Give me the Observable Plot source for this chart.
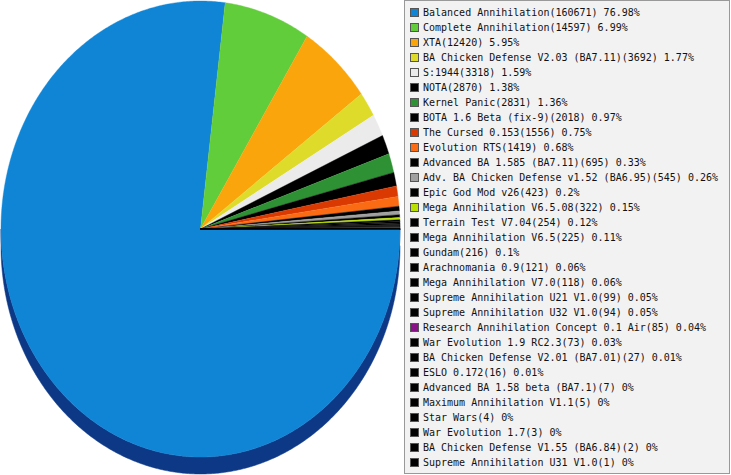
<!DOCTYPE html>
<html>
<head>
<meta charset="utf-8">
<script src="https://cdn.jsdelivr.net/npm/d3@7"></script>
<script src="https://cdn.jsdelivr.net/npm/@observablehq/plot@0.6"></script>
<style>
  html, body { margin: 0; padding: 0; background: #fff; }
  #wrap { position: relative; width: 731px; height: 475px; overflow: hidden; }
  #chart { position: absolute; left: 0; top: 0; }
  #legend {
    position: absolute; left: 404px; top: 0; width: 324px; height: 472px;
    border: 1px solid #999; background: #f2f2f2; box-sizing: content-box;
    padding: 0; font-family: "DejaVu Sans Mono", monospace; font-size: 10px; color: #111;
  }
  .row { position: absolute; left: 5px; height: 15px; line-height: 15px; white-space: pre; }
  .sw { position: absolute; left: 0; top: 3px; width: 7px; height: 7px; border: 1px solid #555; }
  .lb { position: absolute; left: 13px; top: 0; }
</style>
</head>
<body>
<div id="wrap">
  <div id="chart"></div>
  <div id="legend"></div>
</div>
<script>
const names = [
  "Balanced Annihilation", "Complete Annihilation", "XTA", "BA Chicken Defense V2.03 (BA7.11)",
  "S:1944", "NOTA", "Kernel Panic", "BOTA 1.6 Beta (fix-9)", "The Cursed 0.153", "Evolution RTS",
  "Advanced BA 1.585 (BA7.11)", "Adv. BA Chicken Defense v1.52 (BA6.95)", "Epic God Mod v26",
  "Mega Annihilation V6.5.08", "Terrain Test V7.04", "Mega Annihilation V6.5", "Gundam",
  "Arachnomania 0.9", "Mega Annihilation V7.0", "Supreme Annihilation U21 V1.0",
  "Supreme Annihilation U32 V1.0", "Research Annihilation Concept 0.1 Air", "War Evolution 1.9 RC2.3",
  "BA Chicken Defense V2.01 (BA7.01)", "ESLO 0.172", "Advanced BA 1.58 beta (BA7.1)",
  "Maximum Annihilation V1.1", "Star Wars", "War Evolution 1.7", "BA Chicken Defense V1.55 (BA6.84)",
  "Supreme Annihilation U31 V1.0"
];
const values = [160671, 14597, 12420, 3692, 3318, 2870, 2831, 2018, 1556, 1419, 695, 545, 423, 322,
  254, 225, 216, 121, 118, 99, 94, 85, 73, 27, 16, 7, 5, 4, 3, 2, 1];
const percents = ["76.98", "6.99", "5.95", "1.77", "1.59", "1.38", "1.36", "0.97", "0.75", "0.68",
  "0.33", "0.26", "0.2", "0.15", "0.12", "0.11", "0.1", "0.06", "0.06", "0.05", "0.05", "0.04",
  "0.03", "0.01", "0.01", "0", "0", "0", "0", "0", "0"];
const colors = ["#1085d6", "#62cd3b", "#f9a50b", "#dfdb2b", "#ebebeb", "#000000", "#2e9234", "#000000",
  "#da3a02", "#fb6b14", "#000000", "#a0a0a0", "#000000", "#b9e000", "#000000", "#000000", "#000000",
  "#000000", "#000000", "#000000", "#000000", "#8a1288", "#000000", "#000000", "#000000", "#000000",
  "#000000", "#000000", "#000000", "#000000", "#000000"];

const depth = 17 / 228;
const shade = c => d3.interpolateLab(c, "#001a66")(0.7);

const total = d3.sum(values);
const face = [], side = [];
let a0 = 0;
values.forEach((v, i) => {
  const a1 = a0 + v / total * 2 * Math.PI;
  const n = Math.max(2, Math.ceil((a1 - a0) / (Math.PI / 360)));
  face.push({key: i, x: 0, y: 0, color: colors[i]});
  for (let k = 0; k <= n; k++) {
    const a = a0 + (a1 - a0) * k / n;
    face.push({key: i, x: Math.cos(a), y: Math.sin(a), color: colors[i]});
  }
  // visible side band (front half: angles between 0 and PI)
  const s0 = Math.max(a0, 0), s1 = Math.min(a1, Math.PI);
  if (s1 > s0) {
    const m = Math.max(2, Math.ceil((s1 - s0) / (Math.PI / 360)));
    const top = [], bot = [];
    for (let k = 0; k <= m; k++) {
      const a = s0 + (s1 - s0) * k / m;
      top.push({key: "s" + i, x: Math.cos(a), y: Math.sin(a), color: shade(colors[i])});
      bot.push({key: "s" + i, x: Math.cos(a), y: Math.sin(a) + depth, color: shade(colors[i])});
    }
    side.push(...top, ...bot.reverse());
  }
  a0 = a1;
});

const chart = Plot.plot({
  width: 404,
  height: 475,
  margin: 0,
  x: {domain: [-1, 1], range: [0.5, 399.5], axis: null},
  y: {domain: [-1, 1], range: [0.5, 456.5], axis: null},
  color: {type: "identity"},
  marks: [
    Plot.line(side, {x: "x", y: "y", z: "key", fill: "color", stroke: "color", strokeWidth: 0.5}),
    Plot.line(face, {x: "x", y: "y", z: "key", fill: "color", stroke: "color", strokeWidth: 0.4})
  ]
});
document.getElementById("chart").appendChild(chart);

const legend = document.getElementById("legend");
names.forEach((nm, i) => {
  const row = document.createElement("div");
  row.className = "row";
  row.style.top = (4 + i * 15) + "px";
  const sw = document.createElement("div");
  sw.className = "sw";
  sw.style.background = colors[i];
  const lb = document.createElement("div");
  lb.className = "lb";
  lb.textContent = `${nm}(${values[i]}) ${percents[i]}%`;
  row.appendChild(sw);
  row.appendChild(lb);
  legend.appendChild(row);
});
</script>
</body>
</html>
